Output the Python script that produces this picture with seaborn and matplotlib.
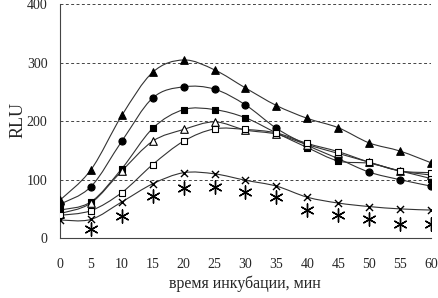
import numpy as np
import pandas as pd
import matplotlib
matplotlib.use("Agg")
import matplotlib.pyplot as plt
from matplotlib.path import Path
from matplotlib.patches import PathPatch
import seaborn as sns

time_min = [0, 5, 10, 15, 20, 25, 30, 35, 40, 45, 50, 55, 60]
filled_triangle = [65, 117, 210, 284, 305, 288, 257, 227, 205, 189, 163, 149, 129]
filled_circle = [58, 88, 166, 240, 259, 255, 228, 188, 159, 136, 113, 100, 89]
filled_square = [48, 62, 119, 188, 220, 220, 206, 180, 155, 132, 128, 115, 102]
open_triangle = [42, 60, 115, 166, 186, 199, 185, 178, 160, 145, 130, 115, 108]
open_square = [39, 47, 78, 126, 166, 187, 186, 180, 162, 148, 130, 115, 112]
cross = [31, 32, 62, 93, 112, 110, 99, 89, 70, 60, 54, 50, 48]
star_time = [5, 10, 15, 20, 25, 30, 35, 40, 45, 50, 55, 60]
star_level = [15, 38, 72, 86, 88, 79, 71, 48, 39, 32, 24, 24]

x_ticks = list(range(0, 61, 5))
y_ticks = [0, 100, 200, 300, 400]
x_label = "время инкубации, мин"
y_label = "RLU"

series = [
    ("filled_triangle", filled_triangle, "^", "black", 30),
    ("filled_circle", filled_circle, "o", "black", 26),
    ("filled_square", filled_square, "s", "black", 24),
    ("open_triangle", open_triangle, "^", "white", 30),
    ("open_square", open_square, "s", "white", 24),
    ("cross", cross, "x", "black", 26),
]

sns.set_style("white")
plt.rcParams["font.family"] = ["Liberation Serif", "DejaVu Serif"]

fig = plt.figure(figsize=(4.38, 2.98), dpi=100)
ax = fig.add_axes([0.137, 0.201, 0.847, 0.784])


def smooth_path(xs, ys):
    pts = np.column_stack([xs, ys]).astype(float)
    ext = np.vstack([pts[0], pts, pts[-1]])
    verts = [tuple(pts[0])]
    codes = [Path.MOVETO]
    for i in range(1, len(ext) - 2):
        p0, p1, p2, p3 = ext[i - 1], ext[i], ext[i + 1], ext[i + 2]
        c1 = p1 + (p2 - p0) / 6.0
        c2 = p2 - (p3 - p1) / 6.0
        verts += [tuple(c1), tuple(c2), tuple(p2)]
        codes += [Path.CURVE4, Path.CURVE4, Path.CURVE4]
    return Path(verts, codes)


for name, vals, mk, fc, s in series:
    ax.add_patch(PathPatch(smooth_path(time_min, vals), facecolor="none",
                           edgecolor="#333333", lw=0.8, zorder=2))
    df = pd.DataFrame({"t": time_min, "v": vals})
    if mk == "x":
        sns.scatterplot(data=df, x="t", y="v", marker="x", color="black",
                        s=s, linewidth=1.0, ax=ax, zorder=3)
    else:
        sns.scatterplot(data=df, x="t", y="v", marker=mk, facecolor=fc,
                        edgecolor="black", s=s, linewidth=0.8, ax=ax, zorder=3)

df_star = pd.DataFrame({"t": star_time, "v": star_level})
sns.scatterplot(data=df_star, x="t", y="v", marker=(6, 2, 0), color="black",
                s=90, linewidth=1.0, ax=ax, zorder=3)

ax.set_xlim(0, 60)
ax.set_ylim(0, 400)
ax.set_xticks(x_ticks)
ax.set_yticks(y_ticks)
ax.set_xticklabels([str(t) for t in x_ticks], fontsize=10)
ax.set_yticklabels([str(t) for t in y_ticks], fontsize=10)
ax.tick_params(axis="both", direction="out", length=3, width=0.8,
               color="#444444", pad=6)
ax.tick_params(axis="x", pad=11)
for yv in y_ticks[1:]:
    ax.axhline(yv, color="#444444", lw=0.7, ls=(0, (3, 2.5)), zorder=1)
for sp in ["top", "right"]:
    ax.spines[sp].set_visible(False)
for sp in ["left", "bottom"]:
    ax.spines[sp].set_color("#444444")
    ax.spines[sp].set_linewidth(0.8)
ax.set_xlabel(x_label, fontsize=11.5)
ax.set_ylabel(y_label, fontsize=13)
ax.xaxis.set_label_coords(0.499, -0.197)
ax.yaxis.set_label_coords(-0.113, 0.504)
ax.xaxis.label.set_verticalalignment("center")
ax.yaxis.label.set_verticalalignment("center")

fig.savefig("out.png", dpi=100)
